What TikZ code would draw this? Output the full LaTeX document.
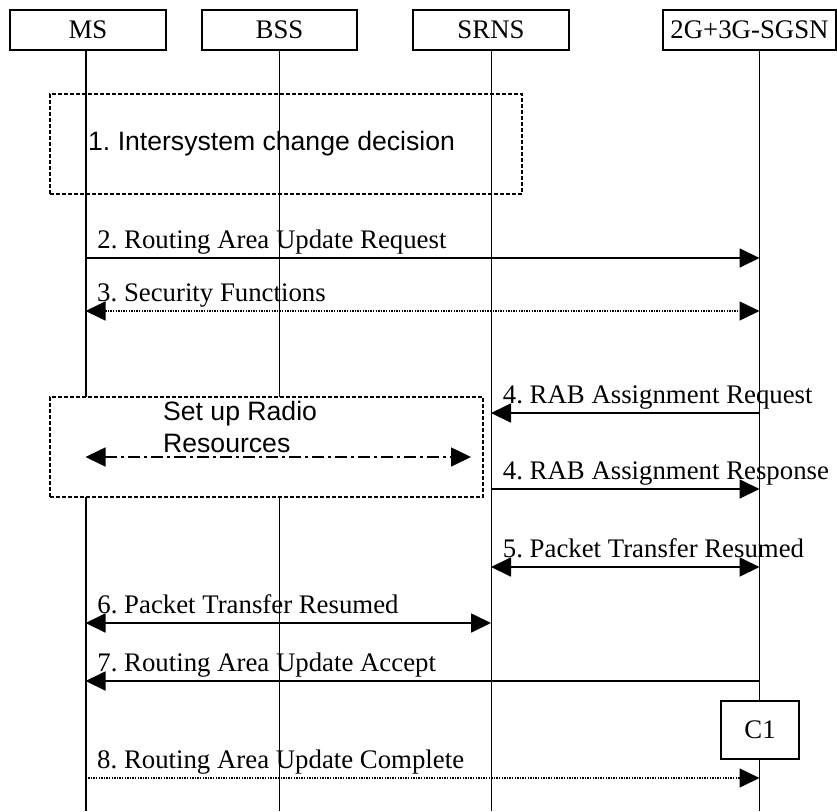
\documentclass[tikz,border=0pt]{standalone}
\usepackage{fontspec}
\setmainfont{Liberation Serif}
\newfontfamily\arialfam{Liberation Sans}
\usetikzlibrary{arrows.meta,positioning}
\frenchspacing

\begin{document}
\begin{tikzpicture}[
      x=1pt, y=-1pt,
      font=\fontsize{26.8}{30}\selectfont,
      >={Triangle[length=20pt, width=19pt]},
      hdr/.style={draw, line width=1.5pt, minimum height=40pt, inner sep=0pt},
      life/.style={line width=0.9pt},
      msg/.style={line width=1.8pt},
      dotmsg/.style={line width=1.4pt, dash pattern=on 1.4pt off 1.2pt},
      dashdot/.style={line width=1.6pt, dash pattern=on 12pt off 4pt on 3pt off 4pt},
      decbox/.style={draw, line width=2pt, dash pattern=on 4pt off 2pt, inner sep=0pt},
      lbl/.style={anchor=base west, inner sep=0pt, xshift=11pt, yshift=10pt},
      atext/.style={anchor=base west, inner sep=0pt, font=\arialfam\fontsize{26.6}{30}\selectfont},
    ]
    \useasboundingbox (0,0) rectangle (837,811);

    % ---------- entidades ----------
    \node[hdr, minimum width=156pt] (ms)   at (88,30)    {MS};
    \node[hdr, minimum width=155pt] (bss)  at (279.5,30) {BSS};
    \node[hdr, minimum width=156pt] (srns) at (491,30)   {SRNS};
    \node[hdr, minimum width=173pt] (sgsn) at (749.5,30) {2G+3G-SGSN};

    % ---------- lineas de vida ----------
    \coordinate (msT)   at (85.5,50);  \coordinate (msB)   at (85.5,811);
    \coordinate (bssT)  at (279,50);   \coordinate (bssB)  at (279,811);
    \coordinate (srnsT) at (491,50);   \coordinate (srnsB) at (491,811);
    \coordinate (sgsnT) at (759.5,50); \coordinate (sgsnB) at (759.5,811);

    \draw[life, line width=2pt] (msT) -- (msB);
    \draw[life] (bssT) -- (bssB);
    \draw[life] (srnsT) -- (srnsB);
    \draw[life] (sgsnT) -- (sgsnB);

    % ---------- 1. decision ----------
    \node[decbox, minimum width=472pt, minimum height=100pt] (dec) at (286,144) {};
    \node[atext] (dect) at (88,150) {1. Intersystem change decision};

    % ---------- 2. y 3. ----------
    \coordinate (r2) at (0,258);
    \draw[msg, ->] (msT |- r2) -- (sgsnT |- r2)
      node[at start, lbl] (l2) {2. Routing Area Update Request};

    \coordinate (r3) at (0,311);
    \draw[dotmsg, <->] (msT |- r3) -- (sgsnT |- r3)
      node[at start, lbl] (l3) {3. Security Functions};

    % ---------- recursos radio ----------
    \node[decbox, fill=white, minimum width=433pt, minimum height=100pt] (radio) at (266.5,447) {};
    \node[atext] (rad1) at (163,420) {Set up Radio};
    \node[atext] (rad2) at (163,452) {Resources};
    \coordinate (radL) at (85.5,457);
    \coordinate (radR) at (471,457);
    \draw[dashdot, <->] (radL) -- (radR);

    % ---------- 4. RAB ----------
    \coordinate (r4a) at (0,413);
    \draw[msg, ->] (sgsnT |- r4a) -- (srnsT |- r4a)
      node[at end, lbl] (l4a) {4. RAB Assignment Request};

    \coordinate (r4b) at (0,489);
    \draw[msg, ->] (srnsT |- r4b) -- (sgsnT |- r4b)
      node[at start, lbl] (l4b) {4. RAB Assignment Response};

    % ---------- 5. a 8. ----------
    \coordinate (r5) at (0,567);
    \draw[msg, <->] (srnsT |- r5) -- (sgsnT |- r5)
      node[at start, lbl] (l5) {5. Packet Transfer Resumed};

    \coordinate (r6) at (0,623);
    \draw[msg, <->] (msT |- r6) -- (srnsT |- r6)
      node[at start, lbl] (l6) {6. Packet Transfer Resumed};

    \coordinate (r7) at (0,681);
    \draw[msg, ->] (sgsnT |- r7) -- (msT |- r7)
      node[at end, lbl] (l7) {7. Routing Area Update Accept};

    \node[hdr, fill=white, minimum width=78pt, minimum height=58pt] (c1) at (760,730) {C1};

    \coordinate (r8) at (0,778);
    \draw[dotmsg, ->] (msT |- r8) -- (sgsnT |- r8)
      node[at start, lbl] (l8) {8. Routing Area Update Complete};

  \end{tikzpicture}
\end{document}
